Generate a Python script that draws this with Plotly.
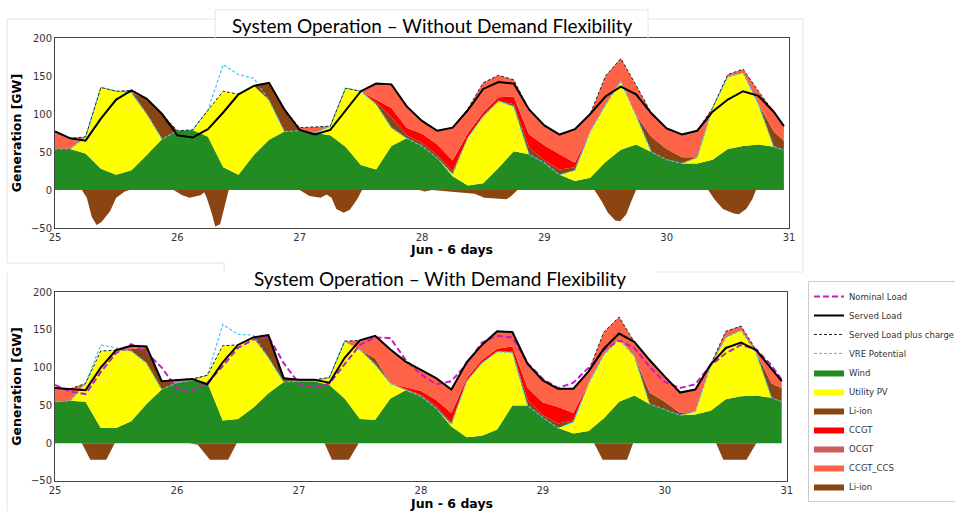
import plotly.graph_objects as go

# ---------------- time axis (hours after 25 Jun 00:00) ----------------
HOURS = list(range(0, 142, 3)) + [143]
DAYS = [25 + h / 24 for h in HOURS]

# ---------------- Without demand flexibility (GW) ----------------
wind_a = [54, 54, 48, 28, 20, 26, 46, 67, 78, 79,
          70, 30, 20, 46, 66, 77, 78, 75, 72, 57,
          33, 27, 58, 68, 58, 42, 18, 6, 9, 29,
          51, 47, 36, 20, 12, 16, 37, 53, 60, 50,
          40, 35, 35, 40, 54, 58, 60, 57, 53]
pv_a = [0, 0, 22, 107, 110, 102, 54, 0, 0, 0,
        35, 100, 106, 91, 52, 0, 0, 0, 12, 77,
        97, 86, 24, 0, 0, 0, 3, 63, 88, 88,
        59, 0, 0, 0, 14, 61, 75, 90, 38, 0,
        0, 0, 8, 68, 95, 96, 53, 0, 0]
liion_a = [0, 0, 0, 0, 0, 0, 20, 33, 0, 0,
           0, 0, 0, 0, 23, 29, 0, 0, 0, 0,
           0, 2, 14, 4, 4, 4, 4, 0, 0, 0,
           3, 9, 3, 7, 4, 0, 0, 0, 0, 20,
           14, 8, 0, 0, 0, 0, 0, 20, 12]
ccgt_a = [0, 0, 0, 0, 0, 0, 0, 0, 0, 0,
          0, 0, 0, 0, 0, 0, 0, 0, 0, 0,
          0, 4, 12, 10, 12, 14, 14, 6, 5, 5,
          10, 17, 20, 20, 6, 0, 0, 0, 0, 0,
          0, 0, 0, 0, 0, 0, 0, 0, 0]
ocgt_a = [0] * len(HOURS)
ccs_a = [23, 14, 0, 0, 0, 3, 0, 0, 0, 0,
         0, 0, 0, 0, 0, 0, 4, 8, 0, 0,
         0, 21, 31, 28, 17, 18, 43, 32, 39, 29,
         22, 33, 26, 26, 44, 23, 38, 30, 40, 31,
         27, 30, 35, 0, 3, 5, 17, 26, 19]
load_a = [77, 68, 65, 94, 119, 131, 120, 100, 72, 69,
          80, 102, 126, 137, 141, 106, 79, 73, 79, 105,
          130, 140, 139, 110, 91, 78, 82, 105, 133, 142,
          140, 106, 85, 73, 80, 100, 123, 136, 126, 101,
          81, 73, 78, 103, 119, 130, 124, 103, 84]
curtail_a = [0, 0, 0, 0, 0, 0, 0, 0, 0, 0,
             0, 35, 26, 10, 0, 0, 0, 0, 0, 0,
             0, 0, 0, 0, 0, 0, 0, 0, 0, 0,
             0, 0, 0, 0, 0, 0, 0, 0, 0, 0,
             0, 0, 0, 0, 0, 0, 0, 0, 0]
charge_a_days = [25.00, 25.22, 25.26, 25.30, 25.34, 25.38, 25.45, 25.50, 25.57, 25.61,
                 25.97, 26.04, 26.10, 26.19, 26.22, 26.24, 26.28, 26.31, 26.35, 26.39,
                 26.42, 27.00, 27.08, 27.17, 27.22, 27.26, 27.30, 27.36, 27.41, 27.47,
                 27.51, 27.98, 28.02, 28.08, 28.31, 28.43, 28.51, 28.59, 28.69, 28.73,
                 28.78, 29.41, 29.47, 29.52, 29.58, 29.62, 29.67, 29.71, 29.75, 30.34,
                 30.39, 30.46, 30.55, 30.59, 30.65, 30.70, 30.73, 30.96]
charge_a_gw = [0, 0, -10, -35, -46, -42, -28, -10, -2, 0,
               0, -7, -10, -7, -3, -10, -30, -48, -45, -20,
               0, 0, -8, -10, -6, -10, -25, -30, -26, -12,
               0, 0, -2, 0, -3, -5, -10, -11, -12, -8,
               0, 0, -15, -30, -40, -41, -32, -15, 0, 0,
               -12, -25, -31, -32, -25, -12, 0, 0]

# ---------------- With demand flexibility (GW) ----------------
wind_b = [55, 56, 55, 20, 20, 29, 52, 71, 80, 83,
          80, 30, 32, 47, 66, 81, 82, 82, 77, 59,
          32, 31, 59, 70, 62, 46, 22, 8, 10, 18,
          50, 50, 34, 20, 13, 16, 33, 55, 63, 52,
          45, 37, 38, 43, 58, 62, 63, 60, 55]
pv_b = [0, 0, 24, 102, 103, 93, 54, 0, 0, 0,
        10, 99, 98, 93, 47, 0, 0, 0, 10, 76,
        92, 73, 20, 0, 0, 0, 3, 74, 96, 103,
        70, 0, 0, 0, 15, 63, 84, 83, 52, 0,
        0, 0, 4, 59, 82, 87, 56, 0, 0]
liion_b = [0, 0, 0, 0, 0, 3, 20, 11, 0, 0,
           0, 0, 0, 0, 30, 5, 0, 0, 0, 0,
           0, 8, 0, 1, 2, 3, 3, 0, 0, 0,
           2, 7, 3, 6, 2, 0, 0, 0, 0, 15,
           10, 3, 0, 0, 0, 0, 0, 19, 18]
ccgt_b = [0, 0, 0, 0, 0, 0, 0, 0, 0, 0,
          0, 0, 0, 0, 0, 0, 0, 0, 0, 0,
          0, 0, 0, 3, 5, 8, 12, 4, 4, 4,
          6, 16, 17, 22, 10, 0, 0, 0, 0, 0,
          0, 0, 0, 0, 0, 0, 0, 0, 0]
ocgt_b = [0] * len(HOURS)
ccs_b = [18, 16, 0, 0, 0, 4, 2, 0, 4, 2,
         0, 0, 0, 0, 0, 0, 2, 2, 0, 0,
         12, 30, 45, 34, 28, 29, 31, 21, 20, 23,
         19, 32, 29, 24, 32, 16, 30, 29, 19, 43,
         33, 27, 29, 2, 8, 6, 4, 19, 9]
load_b = [73, 72, 70, 100, 123, 129, 128, 82, 84, 85,
          78, 107, 130, 140, 143, 86, 84, 84, 80, 113,
          136, 142, 124, 108, 97, 86, 71, 107, 130, 148,
          147, 105, 83, 72, 72, 95, 125, 145, 134, 110,
          88, 67, 71, 104, 126, 133, 123, 98, 82]
curtail_b = [0, 0, 0, 8, 3, 0, 0, 0, 0, 0,
             0, 28, 14, 3, 0, 0, 0, 0, 0, 0,
             0, 0, 0, 0, 0, 0, 0, 0, 0, 0,
             0, 0, 0, 0, 0, 0, 0, 0, 0, 0,
             0, 0, 0, 0, 0, 0, 0, 0, 0]
charge_b_days = [25.00, 25.22, 25.29, 25.42, 25.49, 26.10, 26.17, 26.27, 26.42, 26.49,
                 27.21, 27.27, 27.41, 27.49, 29.42, 29.49, 29.69, 29.74, 30.42, 30.48,
                 30.67, 30.75, 30.96]
charge_b_gw = [0, 0, -22, -22, 0, 0, -2, -22, -22, 0,
               0, -22, -22, 0, 0, -22, -22, 0, 0, -22,
               -22, 0, 0]
nominal_load = load_a  # nominal demand = served load without flexibility

X_TICKS = [25, 26, 27, 28, 29, 30, 31]
Y_TICKS = [-50, 0, 50, 100, 150, 200]

COLORS = {"Wind": "#228B22", "Utility PV": "#FFFF00", "Li-ion": "#8B4513",
          "CCGT": "#FF0000", "OCGT": "#CD5C5C", "CCGT_CCS": "#FF6347"}
CYAN = "#3ec5f5"
MAGENTA = "#c020c0"

fig = go.Figure()


def add_panel(xa, ya, grp, wind, pv, li, ccgt, ocgt, ccs, ch_days, ch_gw,
              load, curtail, nominal=None, legend=False):
    comps = [("Wind", wind, 5), ("Utility PV", pv, 6), ("Li-ion", li, 7),
             ("CCGT", ccgt, 8), ("OCGT", ocgt, 9), ("CCGT_CCS", ccs, 10)]
    for name, vals, rank in comps:
        fig.add_trace(go.Scatter(
            x=DAYS, y=vals, name=name, stackgroup=grp, mode="lines",
            line=dict(width=0, color=COLORS[name]), fillcolor=COLORS[name],
            xaxis=xa, yaxis=ya, showlegend=legend, legendrank=rank,
            hoverinfo="skip"))
    fig.add_trace(go.Scatter(
        x=ch_days, y=ch_gw, name="Li-ion", fill="tozeroy", mode="lines",
        line=dict(width=0, color=COLORS["Li-ion"]), fillcolor=COLORS["Li-ion"],
        xaxis=xa, yaxis=ya, showlegend=legend, legendrank=11, hoverinfo="skip"))
    vre = [w + p + c for w, p, c in zip(wind, pv, curtail)]
    top = [sum(v) for v in zip(wind, pv, li, ccgt, ocgt, ccs)]
    fig.add_trace(go.Scatter(
        x=DAYS, y=vre, name="VRE Potential", mode="lines",
        line=dict(color=CYAN, width=1.2, dash="3px,2px"),
        xaxis=xa, yaxis=ya, showlegend=legend, legendrank=4, hoverinfo="skip"))
    fig.add_trace(go.Scatter(
        x=DAYS, y=top, name="Served Load plus charge", mode="lines",
        line=dict(color="#222222", width=1, dash="3px,2px"),
        xaxis=xa, yaxis=ya, showlegend=legend, legendrank=3, hoverinfo="skip"))
    if nominal is not None:
        fig.add_trace(go.Scatter(
            x=DAYS, y=nominal, name="Nominal Load", mode="lines",
            line=dict(color=MAGENTA, width=2, dash="6px,3px"),
            xaxis=xa, yaxis=ya, showlegend=legend, legendrank=1, hoverinfo="skip"))
    fig.add_trace(go.Scatter(
        x=DAYS, y=load, name="Served Load", mode="lines",
        line=dict(color="black", width=2),
        xaxis=xa, yaxis=ya, showlegend=legend, legendrank=2, hoverinfo="skip"))


add_panel("x", "y", "a", wind_a, pv_a, liion_a, ccgt_a, ocgt_a, ccs_a,
          charge_a_days, charge_a_gw, load_a, curtail_a, None, False)
add_panel("x2", "y2", "b", wind_b, pv_b, liion_b, ccgt_b, ocgt_b, ccs_b,
          charge_b_days, charge_b_gw, load_b, curtail_b, nominal_load, True)

tickfont = dict(family="DejaVu Sans", size=10, color="#333333")
xax = dict(range=[25, 31], tickvals=X_TICKS, ticktext=[str(t) for t in X_TICKS],
           showline=True, mirror=True, linecolor="#444444", linewidth=1,
           showgrid=False, zeroline=False, ticks="", tickfont=tickfont)
yax = dict(range=[-50, 200], tickvals=Y_TICKS, ticktext=[str(t).replace("-", "\u2212") for t in Y_TICKS],
           showline=True, mirror=True, linecolor="#444444", linewidth=1,
           showgrid=False, zeroline=False, ticks="", tickfont=tickfont,
           title=dict(text="<b>Generation [GW]</b>", standoff=6,
                      font=dict(family="DejaVu Sans", size=12.5, color="black")))

fig.update_layout(
    width=955, height=511,
    margin=dict(l=55, r=166, t=38, b=30, autoexpand=False),
    paper_bgcolor="white", plot_bgcolor="white",
    xaxis=dict(domain=[0, 1], anchor="y", **xax),
    yaxis=dict(domain=[0.571, 1], anchor="x", **yax),
    xaxis2=dict(domain=[0, 0.997], anchor="y2", **xax),
    yaxis2=dict(domain=[0, 0.4266], anchor="x2", **yax),
    showlegend=True,
    legend=dict(x=1.0259, y=0.4515, xanchor="left", yanchor="top",
                font=dict(family="DejaVu Sans", size=8.5, color="#333333"),
                bordercolor="#cccccc", borderwidth=1, bgcolor="white",
                itemwidth=30, tracegroupgap=0, traceorder="normal"),
)

title_font = dict(family="Lato", size=19, color="black")
label_font = dict(family="DejaVu Sans", size=12.5, color="black")
fig.add_annotation(text="System Operation \u2013 Without Demand Flexibility", xref="paper", yref="paper",
                   x=0.5136, y=1.029, showarrow=False, font=title_font, xanchor="center", yanchor="middle")
fig.add_annotation(text="System Operation \u2013 With Demand Flexibility", xref="paper", yref="paper",
                   x=0.524, y=0.458, showarrow=False, font=title_font, xanchor="center", yanchor="middle")
fig.add_annotation(text="<b>Jun - 6 days</b>", xref="paper", yref="paper",
                   x=0.54, y=0.5237, showarrow=False, font=label_font, xanchor="center", yanchor="middle")
fig.add_annotation(text="<b>Jun - 6 days</b>", xref="paper", yref="paper",
                   x=0.54, y=-0.0497, showarrow=False, font=label_font, xanchor="center", yanchor="middle")


# faint frames of the original composed screenshot
def px(xp):
    return (xp - 55) / 734


def py(yp):
    return (481 - yp) / 443


frame_lines = [((215, 10), (648, 10)), ((215, 10), (215, 38)), ((648, 10), (648, 38)),
               ((7, 19), (215, 19)), ((648, 19), (803, 19)), ((7, 19), (7, 262)),
               ((803, 19), (803, 255)), ((7, 263), (224, 263)), ((224, 263), (224, 272)),
               ((7, 273), (7, 511)), ((657, 272), (803, 272)), ((803, 255), (803, 272))]
for (x0, y0), (x1, y1) in frame_lines:
    fig.add_shape(type="line", xref="paper", yref="paper", x0=px(x0), y0=py(y0),
                  x1=px(x1), y1=py(y1), line=dict(color="#e4e4e4", width=1))

fig.write_html("out.html", config={"displayModeBar": False},
               post_script="document.body.style.margin='0px';document.body.style.overflow='hidden';")
